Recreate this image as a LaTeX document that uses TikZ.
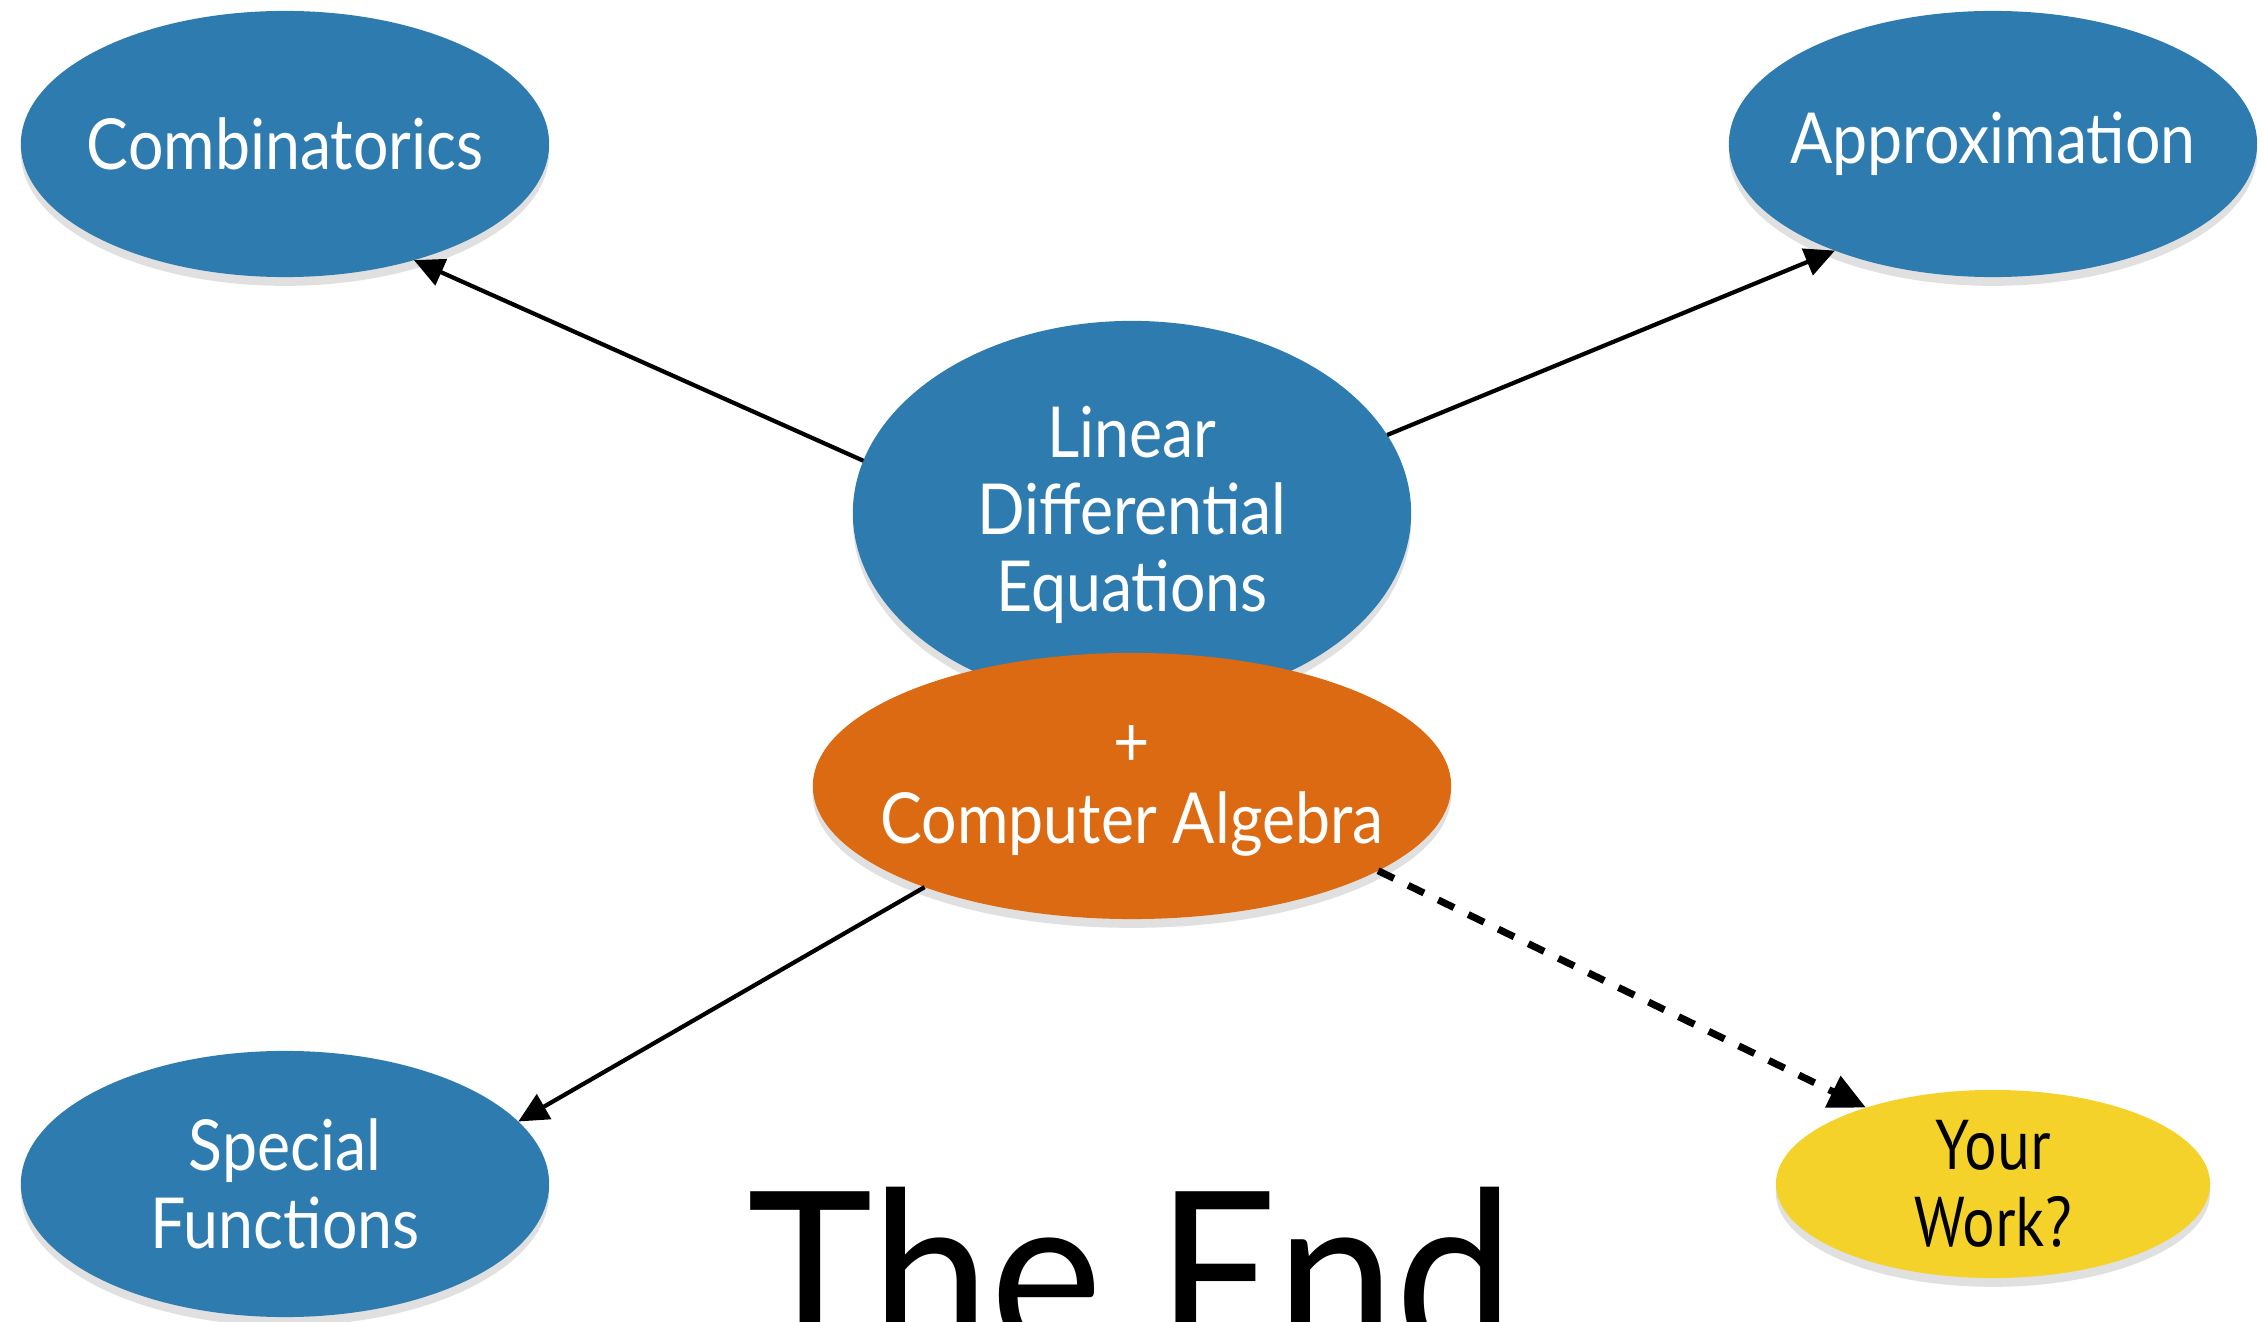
\documentclass[tikz,border=0pt]{standalone}
\usepackage{fontspec}
\setmainfont{Lato}
\newfontfamily\nodefont[FakeStretch=0.89]{Lato}
\newfontfamily\ywfont[FakeStretch=0.87]{PT Sans}
\newfontfamily\endfont[FakeStretch=0.93]{Lato}
\usetikzlibrary{shapes.geometric,arrows.meta,shadows}
\definecolor{nodeblue}{RGB}{46,124,175}
\definecolor{nodeorange}{RGB}{220,106,18}
\definecolor{nodeyellow}{RGB}{244,210,42}
\tikzset{
  bubble/.style={ellipse, inner sep=0pt, outer sep=0pt,
    drop shadow={shadow xshift=0pt, shadow yshift=-2.5pt, opacity=0.12, fill=black}},
  bluebubble/.style={bubble, fill=nodeblue},
  bubbletext/.style={align=center, inner sep=0pt, text=white,
    font=\nodefont\fontsize{20}{22}\selectfont},
  link/.style={line width=1.2pt, -{Triangle[length=8.5pt,width=8pt]}},
  maybelink/.style={line width=2pt, dash pattern=on 5pt off 4.5pt,
    -{Triangle[length=10.5pt,width=9.5pt]}}
}
\begin{document}
\begin{tikzpicture}[x=0.01cm,y=-0.01cm]
\useasboundingbox (0,0) rectangle (2265,1322);
\node[bluebubble, minimum width=5.28cm, minimum height=2.66cm] (comb) at (285,144) {};
\node[bubbletext] (combt) at (comb) {Combinatorics};
\node[bluebubble, minimum width=5.28cm, minimum height=2.66cm] (approx) at (1993,144) {};
\node[bubbletext] (approxt) at (approx) {Approximation};
\node[bluebubble, minimum width=5.58cm, minimum height=3.84cm] (lde) at (1132,513) {};
\node[bubbletext] (ldet) at (1132,515) {Linear\\Differential\\Equations};
\node[bubble, fill=nodeorange, minimum width=6.38cm, minimum height=2.66cm] (ca) at (1132,786) {};
\node[bubbletext] (cat) at (1132,791) {+\\Computer Algebra};
\node[bluebubble, minimum width=5.28cm, minimum height=2.66cm] (sf) at (285,1184) {};
\node[bubbletext] (sft) at (sf) {Special\\Functions};
\node[bubble, fill=nodeyellow, minimum width=4.34cm, minimum height=1.88cm] (yw) at (1993,1184) {};
\node[bubbletext, text=black, font=\ywfont\fontsize{20}{22}\selectfont] (ywt) at (yw) {Your\\Work?};
\node[anchor=base, inner sep=0pt, font=\endfont\fontsize{65}{70}\selectfont] (theend) at (1131,1356) {The End};
\draw[link] (lde.169) -- (comb.318.7);
\draw[link] (lde.17) -- (approx.214.8);
\draw[link] (ca.206.6) -- (sf.15.2);
\draw[maybelink] (ca.-19) -- (yw.149.4);
\end{tikzpicture}
\end{document}
